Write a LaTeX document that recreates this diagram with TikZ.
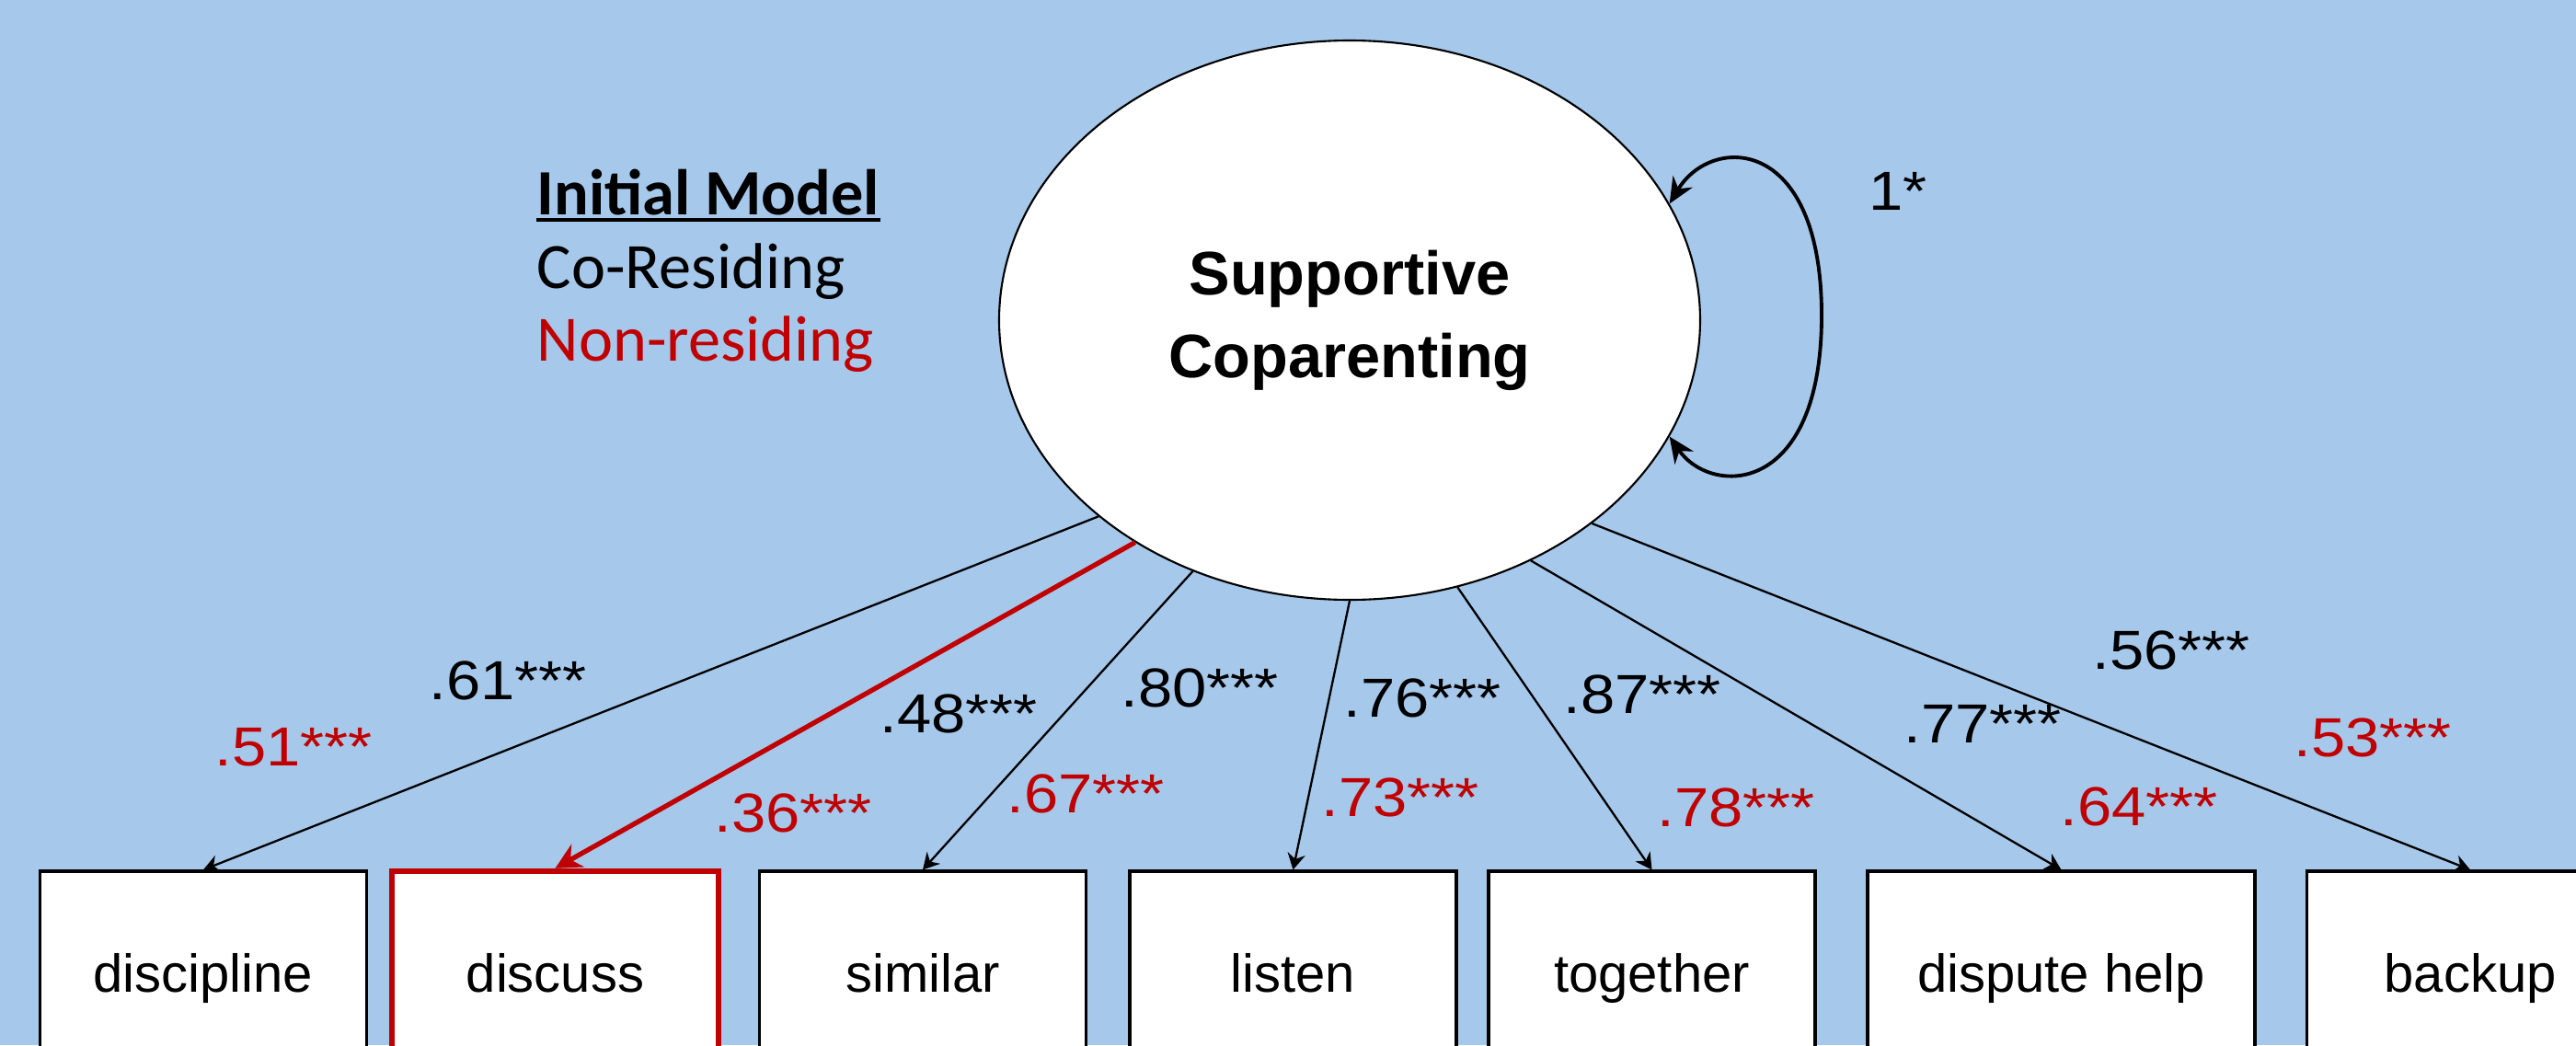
\documentclass[tikz,border=0pt]{standalone}
\usepackage{fontspec}
\setmainfont{Liberation Sans}
\newfontfamily\legendfont{Carlito}
\newfontfamily\coeffont[FakeStretch=1.12]{Liberation Sans}
\usepackage{tikz}
\usetikzlibrary{shapes.geometric,arrows.meta,positioning}
\definecolor{bgblue}{RGB}{166,200,235}
\definecolor{cored}{RGB}{192,0,0}

\begin{document}
\begin{tikzpicture}[item/.style={draw,line width=0.9pt,fill=white,minimum width=3.55cm,minimum height=2.35cm,text height=0.42cm,text depth=0.15cm,font=\fontsize{16.5}{19}\selectfont},
 load/.style={-{Stealth[length=5pt,width=5.5pt]},line width=0.65pt},
 coef/.style={font=\coeffont\fontsize{17}{20}\selectfont},
 coefr/.style={coef,text=cored}]
\useasboundingbox (0,0) rectangle (28,11.36);
\clip (0,0) rectangle (28,11.36);
\fill[bgblue] (0,0) rectangle (28,11.36);
\node[ellipse,draw,line width=0.6pt,fill=white,minimum width=7.62cm,minimum height=6.08cm,inner sep=0pt,align=center,font=\fontsize{19}{25.6}\selectfont\bfseries] (scp) at (14.67,7.88) {Supportive\\Coparenting};
\node[anchor=base west,inner sep=0pt,font=\legendfont\fontsize{20}{24}\selectfont\bfseries] (legTitle) at (5.83,9.03) {Initial Model};
\draw[line width=1pt] ([yshift=-0.06cm]legTitle.base west)--([yshift=-0.06cm]legTitle.base east);
\node[anchor=base west,inner sep=0pt,font=\legendfont\fontsize{20}{24}\selectfont] (legCo) at (5.83,8.23) {Co-Residing};
\node[anchor=base west,inner sep=0pt,font=\legendfont\fontsize{20}{24}\selectfont,text=cored] (legNon) at (5.83,7.44) {Non-residing};
\node[item] (disc) at (2.21,0.715) {discipline};
\node[item,draw=cored,line width=1.8pt] (discu) at (6.035,0.715) {discuss};
\node[item] (simi) at (10.03,0.715) {similar};
\node[item] (lstn) at (14.055,0.715) {listen};
\node[item] (tog) at (17.955,0.715) {together};
\node[item,minimum width=4.21cm] (disp) at (22.405,0.715) {dispute help};
\node[item] (back) at (26.85,0.715) {backup};
\draw[load] (scp.218.8)--(disc.north);
\draw[load,cored,line width=1.5pt,-{Stealth[length=8pt,width=8pt]}] (scp.226.2)--(discu.north);
\draw[load] (scp.238)--(simi.north);
\draw[load] (scp.270)--(lstn.north);
\draw[load] (scp.292.1)--(tog.north);
\draw[load] (scp.307.2)--(disp.north);
\draw[load] (scp.320.9)--(back.north);
\draw[{Stealth[length=8pt,width=7pt]}-{Stealth[length=8pt,width=7pt]},line width=1.1pt] (scp.20) .. controls (18.6,9.9) and (19.8,9.9) .. (19.8,7.93)
 .. controls (19.8,5.96) and (18.6,5.96) .. (scp.-20);
\node[coef] (var) at (20.63,9.28) {1*};
\node[coef] (kDisc) at (5.52,3.96) {.61***};
\node[coefr] (kDiscR) at (3.19,3.24) {.51***};
\node[coef] (kDiscu) at (10.42,3.60) {.48***};
\node[coefr] (kDiscuR) at (8.62,2.52) {.36***};
\node[coef] (kSimi) at (13.04,3.88) {.80***};
\node[coefr] (kSimiR) at (11.80,2.73) {.67***};
\node[coef] (kLstn) at (15.46,3.77) {.76***};
\node[coefr] (kLstnR) at (15.22,2.69) {.73***};
\node[coef] (kTog) at (17.85,3.81) {.87***};
\node[coefr] (kTogR) at (18.87,2.58) {.78***};
\node[coef] (kDisp) at (21.55,3.49) {.77***};
\node[coefr] (kDispR) at (23.25,2.59) {.64***};
\node[coef] (kBack) at (23.60,4.29) {.56***};
\node[coefr] (kBackR) at (25.79,3.34) {.53***};
\end{tikzpicture}
\end{document}
